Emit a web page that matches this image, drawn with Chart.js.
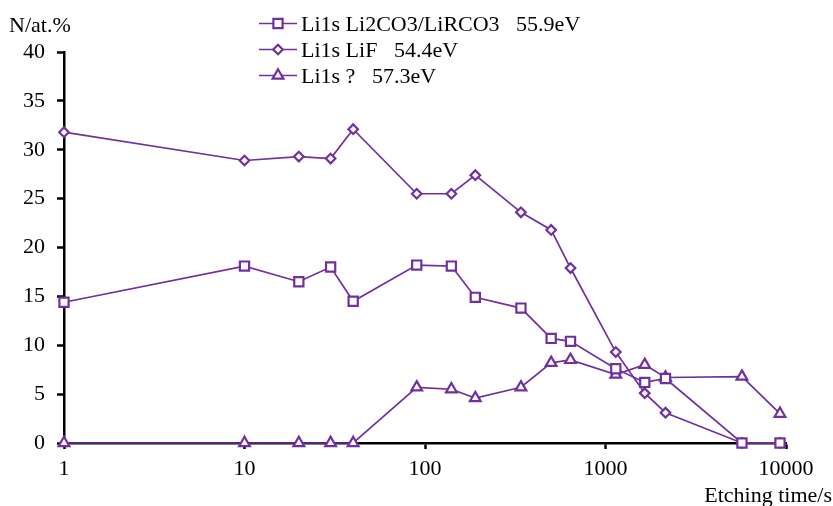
<!DOCTYPE html>
<html lang="en">
<head>
<meta charset="UTF-8">
<title>Li1s depth profile</title>
<script src="https://cdn.jsdelivr.net/npm/chart.js"></script>
<style>
    html, body { margin: 0; padding: 0; background: #fff; }
    #wrap { width: 833px; height: 506px; }
</style>
</head>
<body>
<div id="wrap"><canvas id="profileChart" width="833" height="506"></canvas></div>
<script>
// etching time (s) and Li1s component concentrations (at.%)
const etchTimes = [1, 10, 20, 30, 40, 90, 140, 190, 340, 500, 640, 1140, 1650, 2150, 5700, 9260];
const li2co3 = [14.4, 18.1, 16.5, 18.0, 14.5, 18.2, 18.1, 14.9, 13.8, 10.7, 10.4, 7.6, 6.2, 6.6, 0, 0];
const lif = [31.8, 28.9, 29.3, 29.1, 32.1, 25.5, 25.5, 27.4, 23.6, 21.8, 17.9, 9.3, 5.1, 3.1, 0, 0];
const unknown = [0, 0, 0, 0, 0, 5.7, 5.5, 4.6, 5.7, 8.2, 8.5, 7.0, 8.0, 6.7, 6.8, 3.0];

const seriesLabels = [
    'Li1s Li2CO3/LiRCO3   55.9eV',
    'Li1s LiF   54.4eV',
    'Li1s ?   57.3eV'
];
const xTicks = [1, 10, 100, 1000, 10000];
const yTicks = [0, 5, 10, 15, 20, 25, 30, 35, 40];

const PURPLE = '#7030A0';
const FONT = '"Liberation Serif", "Times New Roman", serif';
const FONT_SIZE = 22;

function toPoints(vals) {
    return etchTimes.map((t, i) => ({ x: t, y: vals[i] }));
}

function series(label, vals, style, radius) {
    return {
        label: label,
        data: toPoints(vals),
        borderColor: PURPLE,
        backgroundColor: '#fff',
        borderWidth: 1.7,
        pointStyle: style,
        pointRadius: radius,
        pointBorderWidth: 2.2,
        pointBorderColor: PURPLE,
        pointBackgroundColor: '#fff',
        tension: 0,
        clip: false
    };
}

// legend rows + axis titles drawn straight on the canvas
const decorations = {
    id: 'decorations',
    afterDraw(chart) {
        const ctx = chart.ctx;
        ctx.save();
        ctx.font = FONT_SIZE + 'px ' + FONT;
        ctx.textBaseline = 'alphabetic';

        chart.data.datasets.forEach((ds, i) => {
            const base = 31 + i * 26;
            const y = base - 7.5;
            ctx.strokeStyle = PURPLE;
            ctx.lineWidth = 1.7;
            ctx.beginPath();
            ctx.moveTo(259, y);
            ctx.lineTo(297, y);
            ctx.stroke();
            ctx.fillStyle = '#fff';
            ctx.lineWidth = 2.2;
            Chart.helpers.drawPoint(ctx, {
                pointStyle: ds.pointStyle,
                radius: ds.pointRadius,
                borderWidth: 2.2,
                rotation: 0
            }, 278, y);
            ctx.fillStyle = '#000';
            ctx.textAlign = 'left';
            ctx.fillText(ds.label, 301, base);
        });

        ctx.fillStyle = '#000';
        ctx.textAlign = 'left';
        ctx.fillText('N/at.%', 9, 32);
        ctx.textAlign = 'right';
        ctx.fillText('Etching time/s', 832, 502);
        ctx.restore();
    }
};

new Chart(document.getElementById('profileChart'), {
    type: 'line',
    data: {
        datasets: [
            series(seriesLabels[0], li2co3, 'rect', 6.5),
            series(seriesLabels[1], lif, 'rectRot', 4.8),
            series(seriesLabels[2], unknown, 'triangle', 6.2)
        ]
    },
    options: {
        responsive: false,
        animation: false,
        layout: { padding: { top: 52, right: 47, left: 0, bottom: 0 } },
        plugins: {
            legend: { display: false },
            tooltip: { enabled: false }
        },
        scales: {
            x: {
                type: 'logarithmic',
                min: 1,
                max: 10000,
                afterBuildTicks: s => { s.ticks = xTicks.map(v => ({ value: v })); },
                afterFit: s => { s.height = 63; },
                ticks: {
                    callback: v => String(v),
                    color: '#000',
                    font: { family: FONT, size: FONT_SIZE },
                    maxRotation: 0,
                    autoSkip: false,
                    padding: 7
                },
                grid: { drawOnChartArea: false, tickLength: 6, tickColor: '#000', tickWidth: 2.5 },
                border: { color: '#000', width: 2.5 }
            },
            y: {
                min: 0,
                max: 40,
                afterBuildTicks: s => { s.ticks = yTicks.map(v => ({ value: v })); },
                afterFit: s => { s.width = 64; },
                ticks: {
                    color: '#000',
                    font: { family: FONT, size: FONT_SIZE },
                    padding: 12
                },
                grid: { drawOnChartArea: false, tickLength: 7, tickColor: '#000', tickWidth: 2.5 },
                border: { color: '#000', width: 2.5 }
            }
        }
    },
    plugins: [decorations]
});
</script>
</body>
</html>
